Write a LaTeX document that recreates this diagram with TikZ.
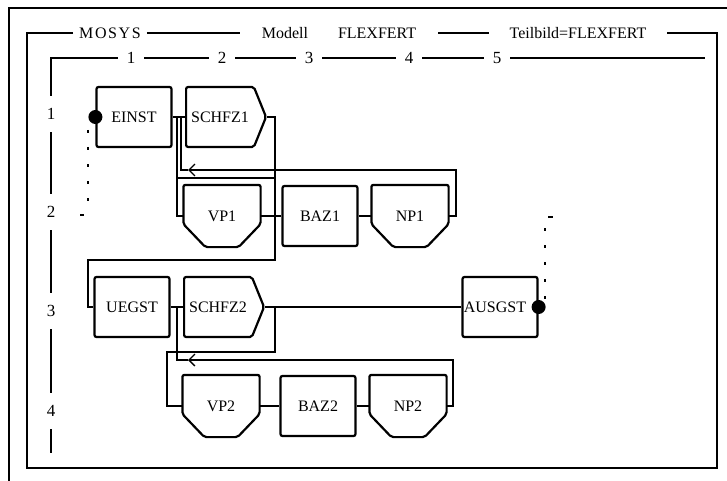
\documentclass[tikz,border=0pt]{standalone}
\usepackage{fontspec}
\setmainfont{Liberation Serif}
\usetikzlibrary{shapes.symbols,arrows.meta}

\tikzset{
  kasten/.style={draw, line width=2.2pt, rounded corners=2pt, minimum width=75pt, minimum height=60pt, inner sep=0pt, font=\fontsize{16}{16}\selectfont},
  puffer/.style={kasten, draw=none},
  umriss/.style={line width=2.2pt, rounded corners=2pt},
  weiche/.style={kasten, signal, signal to=east, signal pointer angle=136, inner xsep=5pt, minimum width=70pt},
  leitung/.style={line width=1.3pt},
  rahmen/.style={line width=2.6pt},
  kopf/.style={font=\fontsize{16}{16}\selectfont, inner sep=0pt},
  ziffer/.style={font=\fontsize{17}{17}\selectfont, inner sep=0pt},
  marke/.style={circle, fill, inner sep=0pt, minimum size=14pt},
  pfeil/.style={-{Straight Barb[length=6pt,width=12pt,line width=1.3pt]}},
  punktlinie/.style={line width=1.5pt, dash pattern=on 3pt off 14pt}
}

% Umriss eines Puffers: oben gerade, unten abgeschraegt
\newcommand\pufferrand[1]{%
  \draw[umriss] (#1.north west) -- (#1.north east) -- ([yshift=23pt]#1.south east)
    -- ([xshift=-22pt]#1.south east) -- ([xshift=22pt]#1.south west)
    -- ([yshift=23pt]#1.south west) -- cycle;}

\begin{document}
\begin{tikzpicture}[x=1pt,y=-1pt]
\useasboundingbox (0,0) rectangle (727,481);

\draw[line width=1.5pt] (9,481) -- (9,8) -- (727,8);

\node[kopf, inner xsep=6pt] (mosys) at (110,33) {\addfontfeature{LetterSpace=10}MOSYS};
\node[kopf, inner xsep=22pt] (modell) at (339,33) {Modell\hspace{30pt}FLEXFERT};
\node[kopf, inner xsep=20pt] (teilbild) at (578,33) {Teilbild=FLEXFERT};
\draw[rahmen] (mosys.west) -- (27,33) -- (27,468) -- (717,468) -- (717,33) -- (teilbild.east);
\draw[rahmen] (mosys.east) -- (modell.west);
\draw[rahmen] (modell.east) -- (teilbild.west);

\node[ziffer, inner xsep=9pt] (s1) at (131,58) {1};
\node[ziffer, inner xsep=9pt] (s2) at (222,58) {2};
\node[ziffer, inner xsep=9pt] (s3) at (309,58) {3};
\node[ziffer, inner xsep=9pt] (s4) at (409,58) {4};
\node[ziffer, inner xsep=9pt] (s5) at (497,58) {5};
\node[ziffer, minimum height=36pt] (z1) at (51,114) {1};
\node[ziffer, minimum height=36pt] (z2) at (51,212) {2};
\node[ziffer, minimum height=36pt] (z3) at (51,311) {3};
\node[ziffer, minimum height=36pt] (z4) at (51,411) {4};
\draw[rahmen] (z1.north) -- (51,58) -- (s1.west);
\draw[rahmen] (s1.east) -- (s2.west);
\draw[rahmen] (s2.east) -- (s3.west);
\draw[rahmen] (s3.east) -- (s4.west);
\draw[rahmen] (s4.east) -- (s5.west);
\draw[rahmen] (s5.east) -- (705,58);
\draw[rahmen] (z1.south) -- (z2.north);
\draw[rahmen] (z2.south) -- (z3.north);
\draw[rahmen] (z3.south) -- (z4.north);
\draw[rahmen] (z4.south) -- (51,453);

\node[kasten] (einst) at (134,117) {EINST};
\node[weiche] (schfz1) at (220,117) {SCHFZ1};
\node[puffer] (vp1) at (222,216) {VP1};
\node[kasten] (baz1) at (320,216) {BAZ1};
\node[puffer] (np1) at (410,216) {NP1};

\node[kasten] (uegst) at (132,307) {UEGST};
\node[weiche] (schfz2) at (218,307) {SCHFZ2};
\node[kasten] (ausgst) at (500,307) {\hspace*{-10pt}AUSGST};

\node[puffer] (vp2) at (221,406) {VP2};
\node[kasten] (baz2) at (318,406) {BAZ2};
\node[puffer] (np2) at (408,406) {NP2};

\pufferrand{vp1}
\pufferrand{np1}
\pufferrand{vp2}
\pufferrand{np2}

\node[marke] (einstpunkt) at (einst.west) {};
\node[marke] (ausgstpunkt) at (ausgst.east) {};

\coordinate (j1) at (181,117);
\coordinate (p1) at (188,170);
\coordinate (j2) at (177,307);
\coordinate (p2) at (188,360);

\draw[leitung] (einst.east) -- (schfz1.west);
\draw[leitung] (schfz1.east) -- (275,117) -- (275,260) -- (88,260) |- (uegst.west);
\draw[leitung] (275,178) -- (177,178) -- (177,117);
\draw[leitung] (177,178) |- (vp1.west);
\draw[leitung] (vp1.east) -- (baz1.west);
\draw[leitung] (baz1.east) -- (np1.west);
\draw[leitung,pfeil] (np1.east) -- (456,216) |- (p1);
\draw[leitung] (p1) -- (181,170) -- (j1);

\draw[leitung] (uegst.east) -- (schfz2.west);
\draw[leitung] (schfz2.east) -- (ausgst.west);
\draw[leitung] (275,307) -- (275,352) -- (167,352) |- (vp2.west);
\draw[leitung] (vp2.east) -- (baz2.west);
\draw[leitung] (baz2.east) -- (np2.west);
\draw[leitung,pfeil] (np2.east) -- (453,406) |- (p2);
\draw[leitung] (p2) -- (177,360) -- (j2);

\draw[punktlinie] (88,130) -- (88,202);
\draw[leitung] (80,215) -- (84,215);
\draw[punktlinie] (545,228) -- (545,300);
\draw[leitung] (548,217) -- (553,217);
\end{tikzpicture}
\end{document}
